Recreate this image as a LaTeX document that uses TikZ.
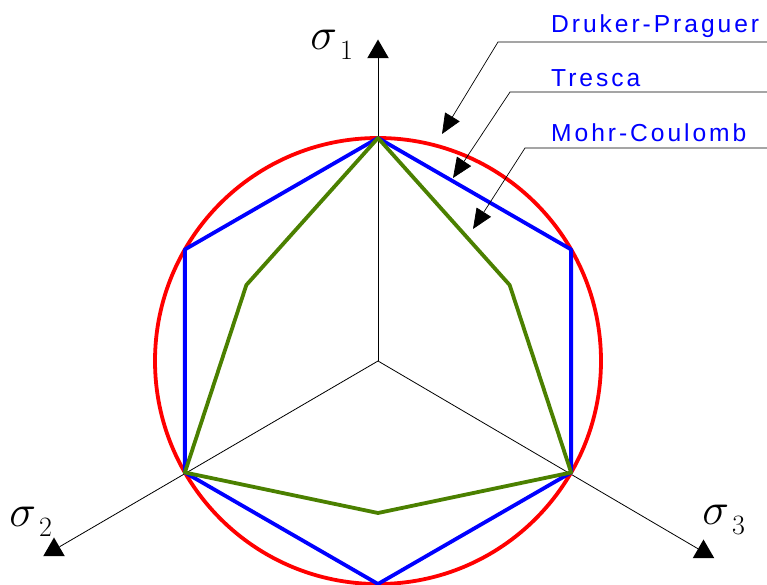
\documentclass[tikz,border=0pt]{standalone}
\usepackage{fix-cm}
\usepackage{fontspec}
\usetikzlibrary{arrows.meta,shapes.geometric}
\newfontfamily\labfont[LetterSpace=12]{Liberation Sans}
\definecolor{tred}{RGB}{255,0,0}
\definecolor{tblue}{RGB}{0,0,255}
\definecolor{mcgreen}{RGB}{75,128,0}
\tikzset{
  axisline/.style={draw=black,line width=0.8pt},
  surfline/.style={line width=3.8pt,line join=round},
  headtri/.style={fill=black,regular polygon,regular polygon sides=3,inner sep=0pt,minimum size=25pt},
  critlabel/.style={text=tblue,font=\labfont\fontsize{24.6}{26}\selectfont,anchor=base west,inner sep=0pt},
  sigmalabel/.style={font=\fontsize{45}{45}\selectfont,anchor=base,inner sep=0pt},
  leader/.style={draw=black,line width=0.7pt,-{Triangle[length=20pt,width=17pt]}},
}
\newcommand{\sigsub}[1]{\raisebox{-3pt}{\fontsize{28}{28}\selectfont\,#1}}
\newcommand{\lleader}[5]{%
  \coordinate (#1K) at (#2,#3);
  \coordinate (#1E) at (767,#3);
  \coordinate (#1T) at (#4,#5);
  \draw[leader] (#1E) -- (#1K) -- (#1T);}

\begin{document}
\begin{tikzpicture}[x=1pt,y=1pt]
  \useasboundingbox (0,0) rectangle (767,585);
  \coordinate (O) at (378,224);
  % axes
  \node[headtri] (t1) at (378,533) {};
  \node[headtri] (t2) at (54,35) {};
  \node[headtri] (t3) at (703.5,33) {};
  \draw[axisline] (O) -- (t1);
  \draw[axisline] (O) -- (t2);
  \draw[axisline] (O) -- (t3);
  \node[sigmalabel] (s1) at (332,535) {$\sigma_{\sigsub{1}}$};
  \node[sigmalabel] (s2) at (31,58) {$\sigma_{\sigsub{2}}$};
  \node[sigmalabel] (s3) at (724,60) {$\sigma_{\sigsub{3}}$};
  % criteria
  \begin{scope}[shift={(O)}]
    \draw[surfline,tred] (0,0) circle (223);
    \draw[surfline,tblue] (90:223) -- (30:223) -- (-30:223) -- (-90:223)
      -- (-150:223) -- (150:223) -- cycle;
    \draw[surfline,mcgreen] (90:223) -- (30:152) -- (-30:223) -- (-90:152)
      -- (-150:223) -- (150:152) -- cycle;
  \end{scope}
  % labels
  \node[critlabel] (dp) at (551,552) {Druker-Praguer};
  \node[critlabel] (tr) at (551,498) {Tresca};
  \node[critlabel] (mc) at (551,443) {Mohr-Coulomb};
  \lleader{dp}{498}{543}{442}{451}
  \lleader{tr}{510}{493}{453}{407}
  \lleader{mc}{525}{437}{473}{356}
\end{tikzpicture}
\end{document}
